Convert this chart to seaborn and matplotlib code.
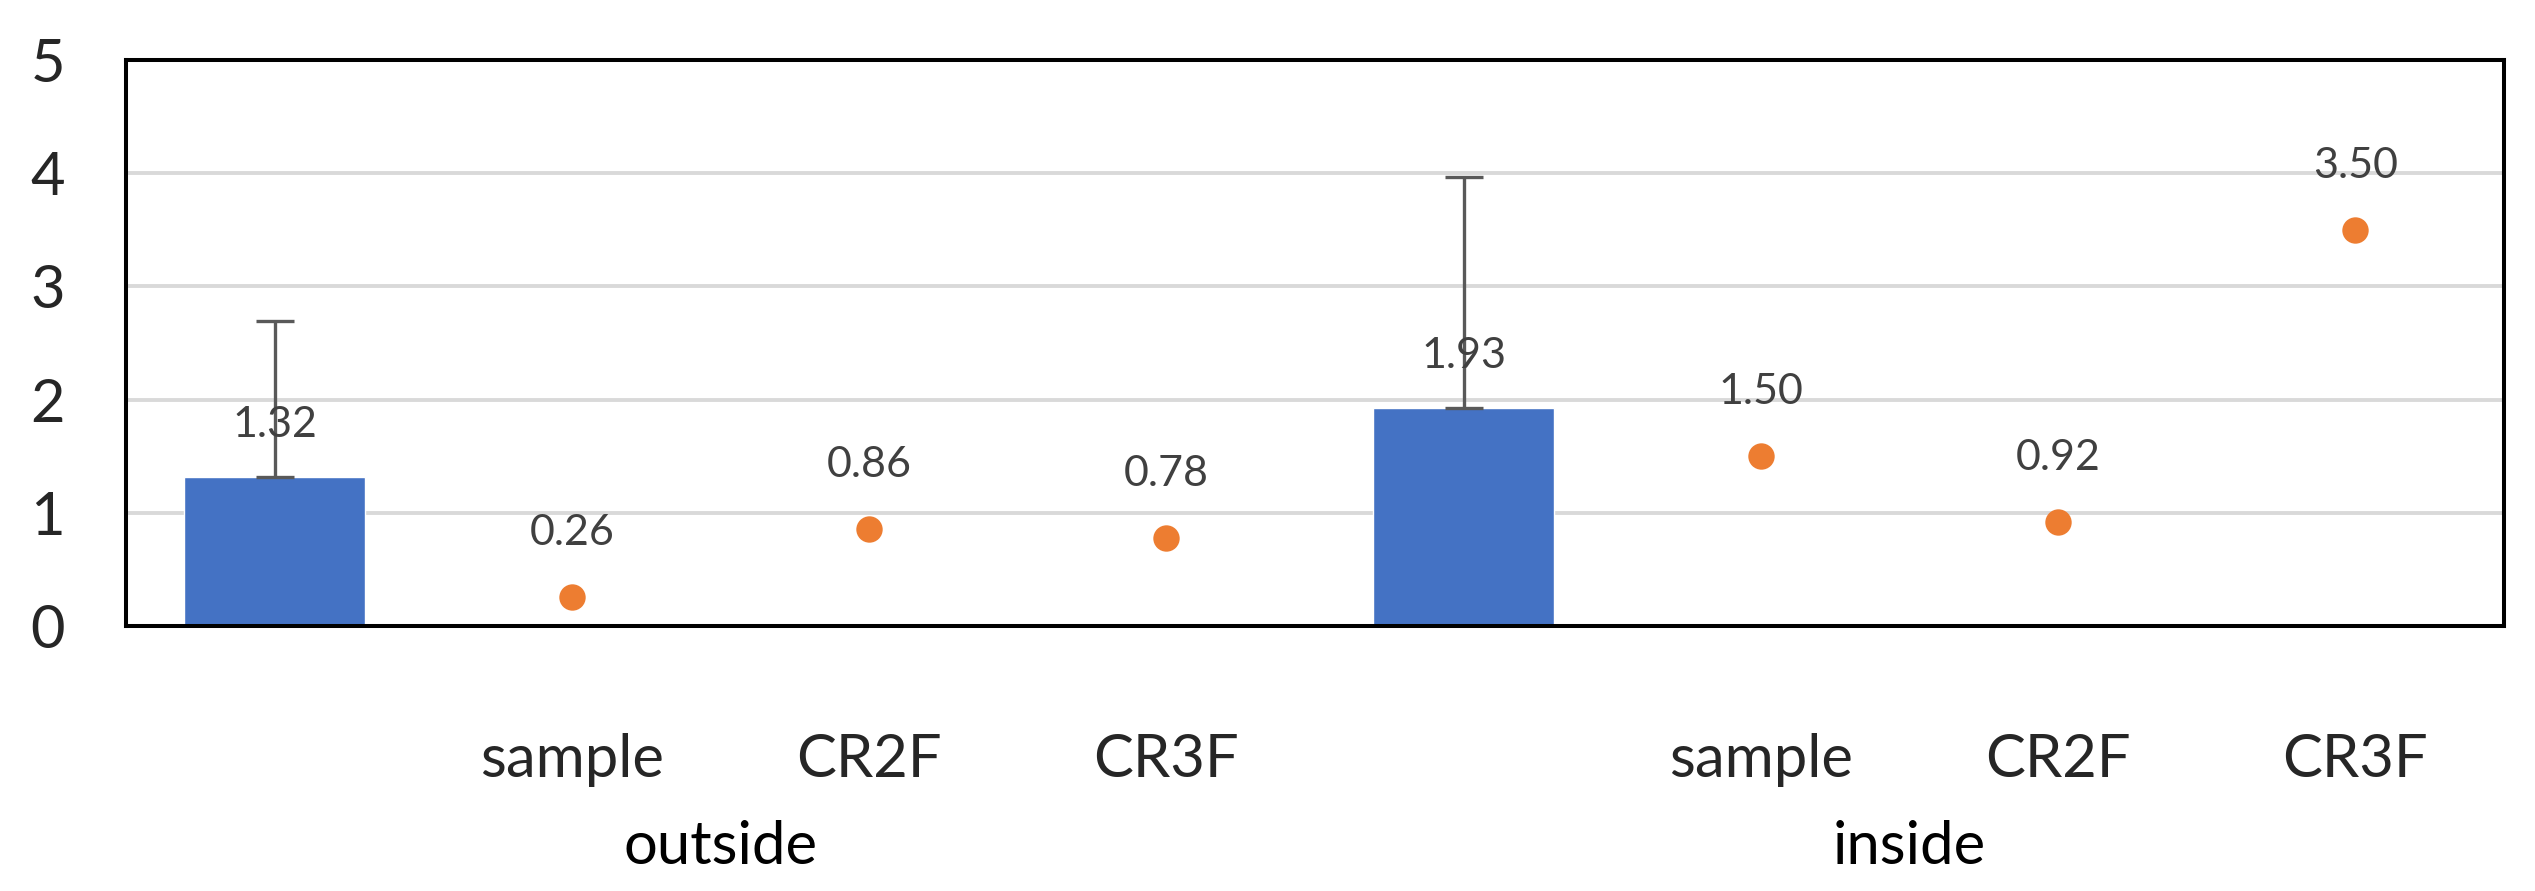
import pandas as pd
import matplotlib
matplotlib.use("Agg")
import matplotlib.pyplot as plt
import seaborn as sns

# chart values
groups = ["outside", "inside"]
sub_labels = ["", "sample", "CR2F", "CR3F"]
bar_values = [1.32, 1.93]
bar_errors = [1.37, 2.04]          # upper error only
dot_values = [[0.26, 0.86, 0.78], [1.50, 0.92, 3.50]]
y_ticks = [0, 1, 2, 3, 4, 5]

BLUE = "#4472C4"
ORANGE = "#ED7D31"
LABEL = "#404040"

# one key per category slot so "sample" etc. can repeat per group
keys = [f"{g}|{s}" for g in groups for s in sub_labels]

bars = pd.DataFrame({
    "key": [f"{g}|" for g in groups],
    "value": bar_values,
    "err": bar_errors,
})
dots = pd.DataFrame({
    "key": [f"{g}|{s}" for g in groups for s in sub_labels[1:]],
    "value": [v for vals in dot_values for v in vals],
})

sns.set_theme(style="white")
plt.rcParams["font.family"] = ["Lato", "DejaVu Sans"]

fig = plt.figure(figsize=(25.35, 8.91), dpi=100)
ax = fig.add_axes([0.0497, 0.2974, 0.9381, 0.6353])

sns.barplot(data=bars, x="key", y="value", order=keys, color=BLUE,
            width=0.61, saturation=1, errorbar=None, ax=ax)
sns.stripplot(data=dots, x="key", y="value", order=keys, color=ORANGE,
              jitter=False, size=19, linewidth=0, ax=ax, zorder=3)

# one-sided error bars on the bars
bar_x = [keys.index(k) for k in bars["key"]]
ax.errorbar(bar_x, bars["value"], yerr=[[0] * len(bars), bars["err"]],
            fmt="none", ecolor="#595959", elinewidth=2.4, capsize=14,
            capthick=2.4, zorder=4)

# data labels
for x, v in zip(bar_x, bars["value"]):
    ax.annotate(f"{v:.2f}", (x, v), xytext=(0, 37), textcoords="offset points",
                ha="center", va="center", fontsize=31, color=LABEL, zorder=5)
for k, v in zip(dots["key"], dots["value"]):
    ax.annotate(f"{v:.2f}", (keys.index(k), v), xytext=(0, 46),
                textcoords="offset points", ha="center", va="center",
                fontsize=31, color=LABEL, zorder=5)

ax.set_ylim(0, 5)
ax.set_xlim(-0.5, len(keys) - 0.5)
ax.set_yticks(y_ticks)
ax.set_yticklabels([str(t) for t in y_ticks], fontsize=43)
ax.set_xticks(range(len(keys)))
ax.set_xticklabels([k.split("|")[1] for k in keys], fontsize=43)
ax.tick_params(axis="y", length=0, pad=44)
ax.tick_params(axis="x", length=0, pad=77)
ax.set_xlabel("")
ax.set_ylabel("")

ax.yaxis.grid(True, color="#D9D9D9", linewidth=2.8)
ax.set_axisbelow(True)
for s in ax.spines.values():
    s.set_visible(True)
    s.set_color("black")
    s.set_linewidth(2.9)

# group labels under the sub-categories
n = len(sub_labels)
for i, g in enumerate(groups):
    ax.text(i * n + (n - 1) / 2, -0.39, g, transform=ax.get_xaxis_transform(),
            ha="center", va="center", fontsize=43, color="black")

fig.savefig("out.png", dpi=100)
